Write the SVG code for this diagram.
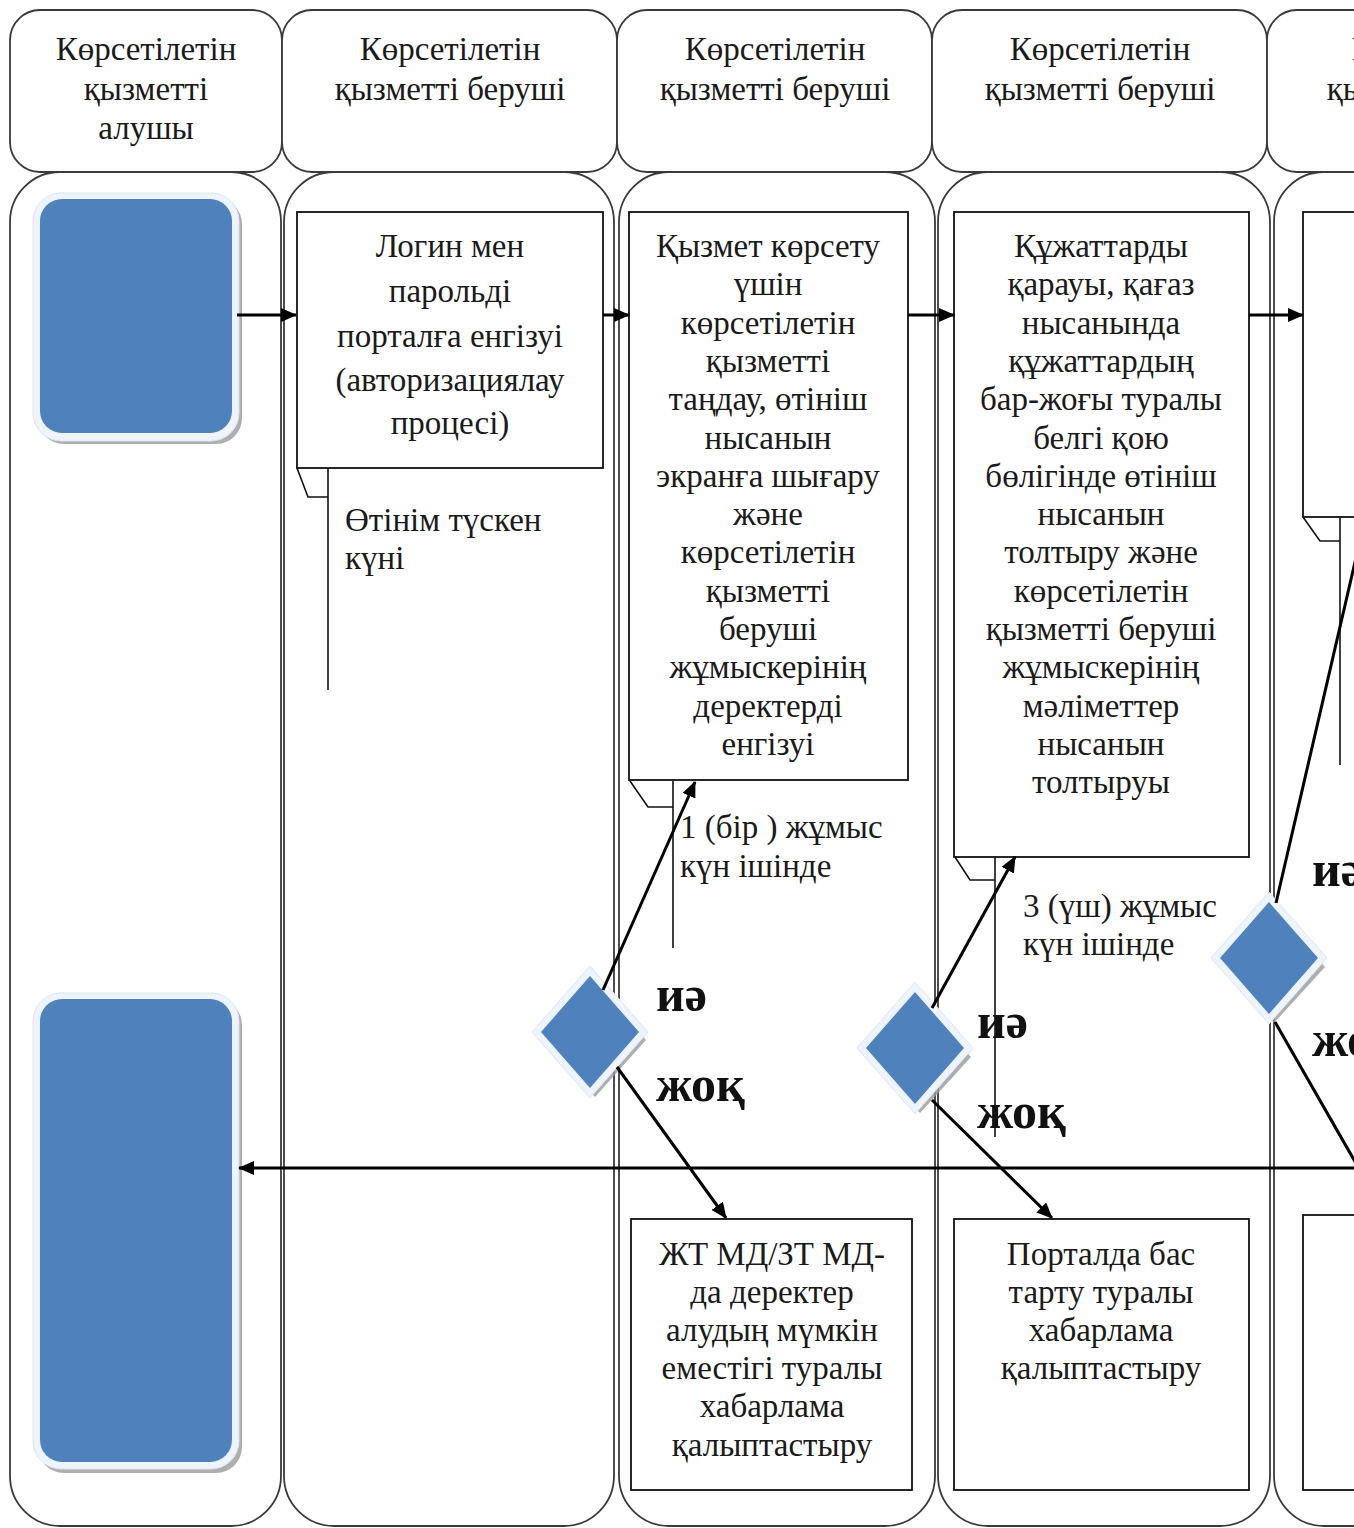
<svg xmlns="http://www.w3.org/2000/svg" width="1354" height="1528" viewBox="0 0 1354 1528">
<defs>
<style>
.lane{fill:#fff;stroke:#3a3a3a;stroke-width:1.8}
.box{fill:#fff;stroke:#111;stroke-width:1.8}
.t{font-family:"Liberation Serif","DejaVu Serif",serif;font-size:33px;fill:#1a1a1a}
.c{text-anchor:middle}
.b{font-family:"Liberation Serif","DejaVu Serif",serif;font-size:50px;font-weight:bold;fill:#111}
.conn{stroke:#000;stroke-width:3;fill:none}
.thin{stroke:#111;stroke-width:1.6;fill:none}
.blue{fill:#4f81bd}
.halo{fill:#eef4fb;stroke:#dbe6f2;stroke-width:1}
.shadow{fill:#9a9a9a;opacity:0.8}
</style>
<marker id="ah" viewBox="0 0 16 14" refX="15" refY="7" markerWidth="16" markerHeight="14" markerUnits="userSpaceOnUse" orient="auto">
<path d="M0,0 L16,7 L0,14 Z" fill="#000"/>
</marker>
</defs>
<rect width="1354" height="1528" fill="#fff"/>

<g id="lanes">
<g id="lane1">
<rect class="lane" x="10" y="10" width="272" height="162" rx="30"/>
<rect class="lane" x="10" y="172" width="271" height="1354" rx="50"/>
<text class="t c" x="146" y="60">Көрсетілетін</text>
<text class="t c" x="146" y="100">қызметті</text>
<text class="t c" x="146" y="139">алушы</text>
</g>
<g id="lane2">
<rect class="lane" x="282" y="10" width="335" height="162" rx="30"/>
<rect class="lane" x="284" y="172" width="330" height="1354" rx="50"/>
<text class="t c" x="450" y="60">Көрсетілетін</text>
<text class="t c" x="450" y="100">қызметті беруші</text>
</g>
<g id="lane3">
<rect class="lane" x="617" y="10" width="315" height="162" rx="30"/>
<rect class="lane" x="619" y="172" width="316" height="1354" rx="50"/>
<text class="t c" x="775" y="60">Көрсетілетін</text>
<text class="t c" x="775" y="100">қызметті беруші</text>
</g>
<g id="lane4">
<rect class="lane" x="932" y="10" width="335" height="162" rx="30"/>
<rect class="lane" x="938" y="172" width="332" height="1354" rx="50"/>
<text class="t c" x="1100" y="60">Көрсетілетін</text>
<text class="t c" x="1100" y="100">қызметті беруші</text>
</g>
<g id="lane5">
<rect class="lane" x="1267" y="10" width="335" height="162" rx="30"/>
<rect class="lane" x="1274" y="172" width="330" height="1354" rx="50"/>
<text class="t c" x="1442" y="60">Көрсетілетін</text>
<text class="t c" x="1442" y="100">қызметті беруші</text>
</g>
</g>

<g id="start">
<rect class="shadow" x="38" y="198" width="204" height="246" rx="26"/>
<rect class="halo" x="33" y="193" width="206" height="248" rx="28"/>
<rect class="blue" x="40" y="199" width="192" height="234" rx="22"/>
</g>

<g id="end">
<rect class="shadow" x="38" y="999" width="204" height="474" rx="26"/>
<rect class="halo" x="33" y="993" width="206" height="476" rx="28"/>
<rect class="blue" x="40" y="999" width="192" height="463" rx="22"/>
</g>

<g id="step1">
<rect class="box" x="297" y="212" width="306" height="256"/>
<text class="t c" x="450" y="257">Логин мен</text>
<text class="t c" x="450" y="302">парольді</text>
<text class="t c" x="450" y="347">порталға енгізуі</text>
<text class="t c" x="450" y="391">(авторизациялау</text>
<text class="t c" x="450" y="434">процесі)</text>
</g>
<g id="note1">
<polyline class="thin" points="297,468 308,497 328,497"/>
<line class="thin" x1="328" y1="468" x2="328" y2="690"/>
<text class="t" x="345" y="531">Өтінім түскен</text>
<text class="t" x="345" y="569">күні</text>
</g>

<g id="step2">
<rect class="box" x="629" y="212" width="279" height="568"/>
<text class="t c" x="768" y="257">Қызмет көрсету</text>
<text class="t c" x="768" y="295">үшін</text>
<text class="t c" x="768" y="334">көрсетілетін</text>
<text class="t c" x="768" y="372">қызметті</text>
<text class="t c" x="768" y="410">таңдау, өтініш</text>
<text class="t c" x="768" y="449">нысанын</text>
<text class="t c" x="768" y="487">экранға шығару</text>
<text class="t c" x="768" y="525">және</text>
<text class="t c" x="768" y="563">көрсетілетін</text>
<text class="t c" x="768" y="602">қызметті</text>
<text class="t c" x="768" y="640">беруші</text>
<text class="t c" x="768" y="678">жұмыскерінің</text>
<text class="t c" x="768" y="717">деректерді</text>
<text class="t c" x="768" y="755">енгізуі</text>
</g>
<g id="note2">
<polyline class="thin" points="630,781 648,807 673,807"/>
<line class="thin" x1="673" y1="781" x2="673" y2="948"/>
<text class="t" x="680" y="838">1 (бір ) жұмыс</text>
<text class="t" x="680" y="877">күн ішінде</text>
</g>

<g id="step3">
<rect class="box" x="954" y="212" width="295" height="645"/>
<text class="t c" x="1101" y="257">Құжаттарды</text>
<text class="t c" x="1101" y="295">қарауы, қағаз</text>
<text class="t c" x="1101" y="334">нысанында</text>
<text class="t c" x="1101" y="372">құжаттардың</text>
<text class="t c" x="1101" y="410">бар-жоғы туралы</text>
<text class="t c" x="1101" y="449">белгі қою</text>
<text class="t c" x="1101" y="487">бөлігінде өтініш</text>
<text class="t c" x="1101" y="525">нысанын</text>
<text class="t c" x="1101" y="563">толтыру және</text>
<text class="t c" x="1101" y="602">көрсетілетін</text>
<text class="t c" x="1101" y="640">қызметті беруші</text>
<text class="t c" x="1101" y="678">жұмыскерінің</text>
<text class="t c" x="1101" y="717">мәліметтер</text>
<text class="t c" x="1101" y="755">нысанын</text>
<text class="t c" x="1101" y="793">толтыруы</text>
</g>
<g id="note3">
<polyline class="thin" points="955,857 970,880 995,880"/>
<line class="thin" x1="995" y1="857" x2="995" y2="1137"/>
<text class="t" x="1023" y="917">3 (үш) жұмыс</text>
<text class="t" x="1023" y="955">күн ішінде</text>
</g>

<g id="step4">
<rect class="box" x="1303" y="212" width="300" height="305"/>
</g>
<g id="note4">
<polyline class="thin" points="1303,517 1320,541 1340,541"/>
<line class="thin" x1="1340" y1="517" x2="1340" y2="765"/>
</g>

<g id="reject1">
<rect class="box" x="631" y="1219" width="281" height="271"/>
<text class="t c" x="772" y="1265">ЖТ МД/ЗТ МД-</text>
<text class="t c" x="772" y="1303">да деректер</text>
<text class="t c" x="772" y="1341">алудың мүмкін</text>
<text class="t c" x="772" y="1379">еместігі туралы</text>
<text class="t c" x="772" y="1417">хабарлама</text>
<text class="t c" x="772" y="1456">қалыптастыру</text>
</g>
<g id="reject2">
<rect class="box" x="954" y="1219" width="295" height="271"/>
<text class="t c" x="1101" y="1265">Порталда бас</text>
<text class="t c" x="1101" y="1303">тарту туралы</text>
<text class="t c" x="1101" y="1341">хабарлама</text>
<text class="t c" x="1101" y="1379">қалыптастыру</text>
</g>
<g id="reject3">
<rect class="box" x="1303" y="1215" width="300" height="275"/>
</g>

<g id="decision1">
<polygon class="shadow" points="595,983 646,1040 595,1097 544,1040"/>
<polygon class="halo" points="590,966 648,1032 590,1098 532,1032"/>
<polygon class="blue" points="590,976 639,1032 590,1088 541,1032"/>
</g>
<g id="decision2">
<polygon class="shadow" points="920,1000 971,1057 920,1113 869,1057"/>
<polygon class="halo" points="915,982 973,1048 915,1114 857,1048"/>
<polygon class="blue" points="915,992 964,1048 915,1104 866,1048"/>
</g>
<g id="decision3">
<polygon class="shadow" points="1274,910 1325,967 1274,1023 1223,967"/>
<polygon class="halo" points="1269,892 1327,958 1269,1024 1211,958"/>
<polygon class="blue" points="1269,902 1318,958 1269,1014 1220,958"/>
</g>

<g id="connectors">
<line class="conn" x1="237" y1="315" x2="296" y2="315" marker-end="url(#ah)"/>
<line class="conn" x1="603" y1="315" x2="629" y2="315" marker-end="url(#ah)"/>
<line class="conn" x1="908" y1="315" x2="954" y2="315" marker-end="url(#ah)"/>
<line class="conn" x1="1249" y1="315" x2="1303" y2="315" marker-end="url(#ah)"/>
<line class="conn" x1="603" y1="990" x2="695" y2="782" marker-end="url(#ah)"/>
<line class="conn" x1="617" y1="1067" x2="726" y2="1218" marker-end="url(#ah)"/>
<line class="conn" x1="932" y1="1008" x2="1015" y2="857" marker-end="url(#ah)"/>
<line class="conn" x1="932" y1="1100" x2="1052" y2="1218" marker-end="url(#ah)"/>
<line class="conn" x1="1276" y1="903" x2="1365" y2="519" marker-end="url(#ah)"/>
<line class="conn" x1="1275" y1="1022" x2="1385" y2="1214" marker-end="url(#ah)"/>
<line class="conn" x1="1420" y1="1168" x2="239" y2="1168" marker-end="url(#ah)"/>
<text class="b" x="656" y="1011">иә</text>
<text class="b" x="656" y="1101">жоқ</text>
<text class="b" x="977" y="1038">иә</text>
<text class="b" x="977" y="1128">жоқ</text>
<text class="b" x="1312" y="886">иә</text>
<text class="b" x="1312" y="1056">жоқ</text>
</g>
</svg>
